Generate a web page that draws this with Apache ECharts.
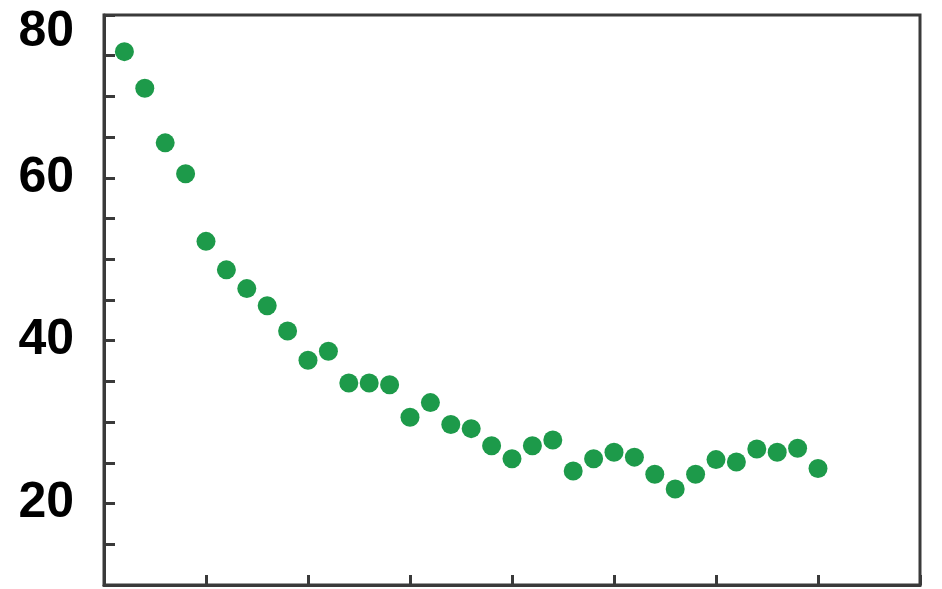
<!DOCTYPE html>
<html>
<head>
<meta charset="utf-8">
<script src="https://cdn.jsdelivr.net/npm/echarts@6/dist/echarts.min.js"></script>
<style>
html,body{margin:0;padding:0;background:#fff;}
#chart{width:942px;height:589px;}
</style>
</head>
<body>
<div id="chart"></div>
<script>
var xValues = [1,2,3,4,5,6,7,8,9,10,11,12,13,14,15,16,17,18,19,20,21,22,23,24,25,26,27,28,29,30,31,32,33,34,35];
var yValues = [75.5,71.0,64.3,60.5,52.2,48.7,46.4,44.3,41.2,37.6,38.7,34.8,34.8,34.6,30.6,32.4,29.7,29.2,27.1,25.5,27.1,27.8,24.0,25.5,26.3,25.7,23.6,21.8,23.6,25.4,25.1,26.7,26.3,26.8,24.3];
var yTickLabels = [20,40,60,80];

var points = xValues.map(function(x,i){return [x, yValues[i]];});

var chart = echarts.init(document.getElementById('chart'));
chart.setOption({
  animation:false,
  backgroundColor:'#ffffff',
  grid:{left:104,right:22,top:15,bottom:4,show:true,borderColor:'#3a3a3a',borderWidth:3,backgroundColor:'transparent'},
  xAxis:{
    type:'value',min:0,max:40,interval:5,
    axisLine:{show:true,lineStyle:{color:'#3a3a3a',width:3}},
    axisTick:{show:true,inside:true,length:10,lineStyle:{color:'#3a3a3a',width:3}},
    axisLabel:{show:false},
    splitLine:{show:false}
  },
  yAxis:{
    type:'value',min:10,max:80,interval:5,
    axisLine:{show:true,lineStyle:{color:'#3a3a3a',width:3}},
    axisTick:{show:true,inside:true,length:11,lineStyle:{color:'#3a3a3a',width:3}},
    splitLine:{show:false},
    axisLabel:{
      margin:30,
      color:'#000',
      fontFamily:'Liberation Sans, Arial, sans-serif',
      fontWeight:'bold',
      fontSize:50,
      formatter:function(v){
        if(yTickLabels.indexOf(v)<0) return '';
        if(v===80) return '{top|'+v+'}';
        return String(v);
      },
      rich:{top:{fontFamily:'Liberation Sans, Arial, sans-serif',fontWeight:'bold',fontSize:50,color:'#000',padding:[34,0,0,0]}}
    }
  },
  series:[{
    type:'scatter',
    data:points,
    symbol:'circle',
    symbolSize:19,
    itemStyle:{color:'#1d9a4a',opacity:1}
  }]
});
</script>
</body>
</html>
